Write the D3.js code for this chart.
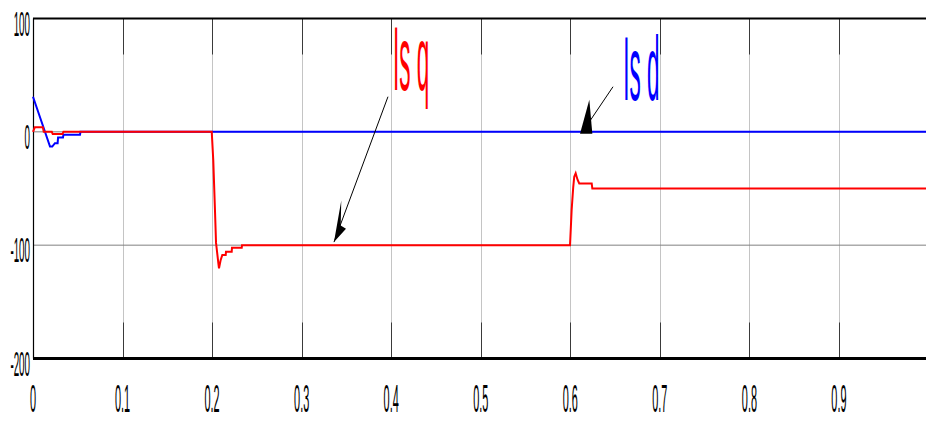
<!DOCTYPE html>
<html>
<head>
<meta charset="utf-8">
<script src="https://cdn.jsdelivr.net/npm/d3@7"></script>
<style>
  body { margin: 0; background: #fff; }
  text { font-family: "Liberation Sans", Arial, sans-serif; }
</style>
</head>
<body>
<div id="container"></div>
<script>
// time (s) and values
var isdTime = [0, 0.019, 0.0215, 0.0245, 0.0275, 0.028, 0.0335, 0.034, 0.0525, 0.053, 1.0];
var isdValue = [31, -13, -13, -10, -10, -5, -5, -2.5, -2.5, 0, 0];

var isqTime = [0, 0.002, 0.011, 0.012, 0.021, 0.022, 0.033, 0.034,
    0.1996, 0.2013, 0.2032, 0.2044, 0.207, 0.2077, 0.2096, 0.2114, 0.2152, 0.2155, 0.2219, 0.2222, 0.2331, 0.2334,
    0.5997, 0.6015, 0.6033, 0.6044, 0.606, 0.6071, 0.6082, 0.61, 0.6239, 0.6246, 1.0];
var isqValue = [0, 4, 4, 0, 0, -2, -2, 0,
    0, -25, -69, -98, -116, -120.5, -113, -108.7, -108.7, -105.8, -105.8, -102.3, -102.3, -100,
    -100, -69, -48.5, -39.6, -36.6, -39.6, -42.5, -45.5, -45.5, -50, -50];

var xTicks = [0, 0.1, 0.2, 0.3, 0.4, 0.5, 0.6, 0.7, 0.8, 0.9];
var xTickLabels = ["0", "0.1", "0.2", "0.3", "0.4", "0.5", "0.6", "0.7", "0.8", "0.9"];
var yTicks = [100, 0, -100, -200];
var yTickLabels = ["100", "0", "-100", "-200"];

// annotations in data units
var labels = [
    {text: "Is q", t: 0.402, v: 37, color: "#ff0000"},
    {text: "Is d", t: 0.659, v: 28, color: "#0000ff"}
];
var arrows = [
    {t0: 0.3964, v0: 31, t1: 0.3361, v1: -97.3, head: [[0, 0], [7.3, -41.7], [6.7, -16.7], [12, -13.4]]},
    {t0: 0.6477, v0: 39.8, t1: 0.6198, v1: 7.1, head: [[1.3, -24], [-8, 10], [4.3, 10]]}
];

function init() {
    var W = 926, H = 421;
    var x = d3.scaleLinear().domain([0, 1]).range([33, 928.5]);
    var y = d3.scaleLinear().domain([-200, 100]).range([358.5, 18.5]);

    var svg = d3.select("#container")
        .append("svg")
        .attr("width", W)
        .attr("height", H);

    // vertical grid lines (light) and tick stubs (dark)
    svg.selectAll(".vgrid")
        .data(xTicks)
        .enter()
        .append("line")
        .attr("x1", d => Math.round(x(d)) + 0.5)
        .attr("x2", d => Math.round(x(d)) + 0.5)
        .attr("y1", y(100))
        .attr("y2", y(-200))
        .attr("stroke", "#c4c4c4")
        .attr("stroke-width", 1);

    [[y(100), y(100) + 36], [y(-200) - 36, y(-200)]].forEach(function (seg) {
        svg.selectAll(null)
            .data(xTicks)
            .enter()
            .append("line")
            .attr("x1", d => Math.round(x(d)) + 0.5)
            .attr("x2", d => Math.round(x(d)) + 0.5)
            .attr("y1", seg[0])
            .attr("y2", seg[1])
            .attr("stroke", "#3a3a3a")
            .attr("stroke-width", 1);
    });

    // horizontal grid lines
    svg.selectAll(".hgrid")
        .data([0, -100])
        .enter()
        .append("line")
        .attr("x1", x(0))
        .attr("x2", W)
        .attr("y1", d => y(d))
        .attr("y2", d => y(d))
        .attr("stroke", "#808080")
        .attr("stroke-width", 1);

    // frame
    svg.append("line")
        .attr("x1", x(0)).attr("x2", W)
        .attr("y1", y(100)).attr("y2", y(100))
        .attr("stroke", "#000").attr("stroke-width", 2);
    svg.append("line")
        .attr("x1", x(0)).attr("x2", W)
        .attr("y1", y(-200)).attr("y2", y(-200))
        .attr("stroke", "#000").attr("stroke-width", 3);
    svg.append("line")
        .attr("x1", Math.round(x(0)) + 0.5).attr("x2", Math.round(x(0)) + 0.5)
        .attr("y1", y(100)).attr("y2", y(-200))
        .attr("stroke", "#000").attr("stroke-width", 1.2);

    // series
    var lg = d3.line()
        .x(d => x(d[0]))
        .y(d => y(d[1]));

    svg.append("path")
        .datum(d3.zip(isdTime, isdValue))
        .attr("d", lg)
        .attr("fill", "none")
        .attr("stroke", "#0000ff")
        .attr("stroke-width", 2);

    svg.append("path")
        .datum(d3.zip(isqTime, isqValue))
        .attr("d", lg)
        .attr("fill", "none")
        .attr("stroke", "#ff0000")
        .attr("stroke-width", 2);

    // tick labels (condensed look)
    svg.selectAll(".ylab")
        .data(yTicks)
        .enter()
        .append("text")
        .attr("transform", d => "translate(30," + (y(d) + 17) + ") scale(0.28,1)")
        .attr("text-anchor", "end")
        .style("font-size", "35px")
        .text((d, i) => yTickLabels[i]);

    svg.selectAll(".xlab")
        .data(xTicks)
        .enter()
        .append("text")
        .attr("transform", d => "translate(" + x(d) + ",412) scale(0.28,1)")
        .attr("text-anchor", "middle")
        .style("font-size", "39px")
        .text((d, i) => xTickLabels[i]);

    // arrows
    arrows.forEach(function (a) {
        var tx = x(a.t1), ty = y(a.v1);
        svg.append("line")
            .attr("x1", x(a.t0)).attr("y1", y(a.v0))
            .attr("x2", tx).attr("y2", ty)
            .attr("stroke", "#000").attr("stroke-width", 1);
        svg.append("polygon")
            .attr("points", a.head.map(p => (tx + p[0]) + "," + (ty + p[1])).join(" "))
            .attr("fill", "#000");
    });

    // series labels
    svg.selectAll(".lbl")
        .data(labels)
        .enter()
        .append("text")
        .attr("transform", d => "translate(" + x(d.t) + "," + y(d.v) + ") scale(0.25,1)")
        .style("font-size", "90px")
        .attr("fill", d => d.color)
        .text(d => d.text);
}
init();
</script>
</body>
</html>
